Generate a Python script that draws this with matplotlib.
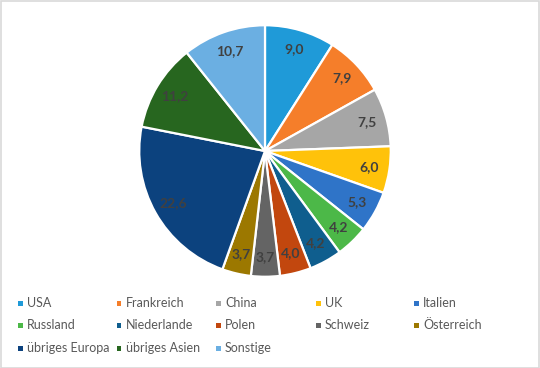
import matplotlib
matplotlib.use("Agg")
import matplotlib.pyplot as plt
from matplotlib.patches import Rectangle

categories = ["USA", "Frankreich", "China", "UK", "Italien",
              "Russland", "Niederlande", "Polen", "Schweiz", "Österreich",
              "übriges Europa", "übriges Asien", "Sonstige"]
values = [9.0, 7.9, 7.5, 6.0, 5.3, 4.2, 4.2, 4.0, 3.7, 3.7, 22.6, 11.2, 10.7]
colors = ["#1F9AD8", "#F57E2A", "#A6A6A6", "#FFC20A", "#2F74C8",
          "#4CB848", "#0F5E8E", "#C2470E", "#646464", "#9C7800",
          "#0C427E", "#27661F", "#6BAFE2"]

plt.rcParams['font.family'] = ['Lato', 'DejaVu Sans']

fig = plt.figure(figsize=(5.40, 3.68), dpi=100)
fig.patch.set_facecolor("white")

cx, cy, r = 265, 151, 127
W, H = 540, 368
ax = fig.add_axes([(cx - r) / W, (H - cy - r) / H, 2 * r / W, 2 * r / H])
wedges, texts = ax.pie(values, colors=colors, startangle=90, counterclock=False,
                       radius=1.0, labels=[f"{v:.1f}".replace(".", ",") for v in values],
                       labeldistance=0.84,
                       wedgeprops=dict(edgecolor="white", linewidth=1.6),
                       textprops=dict(color="#404040", fontsize=10, fontweight="bold"))
for t in texts:
    t.set_horizontalalignment("center")
    t.set_verticalalignment("center")
ax.set_xlim(-1.01, 1.01)
ax.set_ylim(-1.01, 1.01)
ax.set_aspect("equal")
ax.axis("off")

# legend: 5 equal columns, 3 rows
col_x = [20, 119, 218, 318, 416]
row_y = [303, 325, 348]
for i, (lab, c) in enumerate(zip(categories, colors)):
    px = col_x[i % 5]
    py = row_y[i // 5]
    fig.patches.append(Rectangle(((px - 2.5) / W, (H - py - 2.5) / H), 5 / W, 5 / H,
                                 transform=fig.transFigure, facecolor=c, edgecolor="none"))
    fig.text((px + 7) / W, (H - py) / H, lab, fontsize=9, color="#595959",
             ha="left", va="center")

fig.patches.append(Rectangle((0.5 / W, 0.5 / H), (W - 1.5) / W, (H - 1.5) / H,
                             transform=fig.transFigure, facecolor="none",
                             edgecolor="#D9D9D9", linewidth=1.2))

fig.savefig("out.png", dpi=100)
